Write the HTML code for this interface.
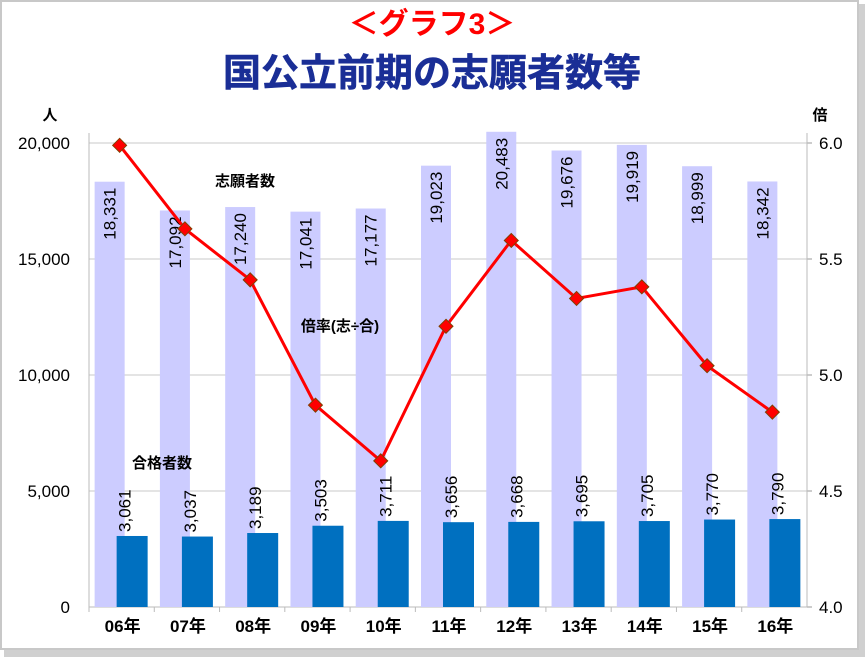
<!DOCTYPE html>
<html><head><meta charset="utf-8"><style>
body{margin:0;background:#fff;width:865px;height:657px;overflow:hidden;font-family:"Liberation Sans","Noto Sans CJK JP",sans-serif}
</style></head><body>
<svg width="865" height="657" viewBox="0 0 865 657" xmlns="http://www.w3.org/2000/svg" font-family="Liberation Sans, Noto Sans CJK JP, sans-serif">
<rect x="1" y="1" width="857" height="648" fill="#fff" stroke="#c8c8c8" stroke-width="2"/>
<rect x="859" y="4" width="6" height="653" fill="#d0d0d0"/>
<rect x="4" y="650" width="861" height="7" fill="#d0d0d0"/>
<text x="432" y="34" text-anchor="middle" font-size="30" font-weight="bold" fill="#ff0000">＜グラフ3＞</text>
<text x="432" y="86" text-anchor="middle" font-size="38" font-weight="bold" fill="#1a2e96" stroke="#1a2e96" stroke-width="0.6">国公立前期の志願者数等</text>
<g id="plot"></g>
</svg>
<script>
const categories=["06年","07年","08年","09年","10年","11年","12年","13年","14年","15年","16年"];
const applicants=[18331,17092,17240,17041,17177,19023,20483,19676,19919,18999,18342];
const admitted=[3061,3037,3189,3503,3711,3656,3668,3695,3705,3770,3790];
const ratio=[5.99,5.63,5.41,4.87,4.63,5.21,5.58,5.33,5.38,5.04,4.84];
const leftTicks=[0,5000,10000,15000,20000];
const rightTicks=[4.0,4.5,5.0,5.5,6.0];
const NS="http://www.w3.org/2000/svg";
const g=document.getElementById('plot');
const X0=89,X1=807,Y0=607,Y1=143;
const bw=(X1-X0)/categories.length;
const yL=v=>Y0-(v/20000)*(Y0-Y1);
const yR=v=>Y0-((v-4)/2)*(Y0-Y1);
const cx=i=>X0+bw*(i+0.5);
function el(t,a,txt){const e=document.createElementNS(NS,t);for(const k in a)e.setAttribute(k,a[k]);if(txt!=null)e.textContent=txt;g.appendChild(e);return e;}
leftTicks.forEach(t=>{
 const gl=el('line',{x1:X0,x2:X1,y1:yL(t),y2:yL(t),stroke:'#c8c8c8'});
 
 const tx=el('text',{x:X0-19,y:yL(t)+6,'text-anchor':'end','font-size':17,fill:'#000'},t.toLocaleString('en-US'));
 
});
rightTicks.forEach(t=>{
 const tx=el('text',{x:X1+12,y:yR(t)+6,'font-size':17,fill:'#000'},t.toFixed(1));
 
 el('line',{x1:X1,x2:X1+5,y1:yR(t),y2:yR(t),stroke:'#999'});
});
el('line',{x1:X0,x2:X0,y1:Y1-10,y2:Y0,stroke:'#bbb'});
el('line',{x1:X1,x2:X1,y1:Y1-10,y2:Y0,stroke:'#bbb'});
el('line',{x1:X0,x2:X1,y1:Y0,y2:Y0,stroke:'#bbb'});
let u=el('text',{x:50,y:120,'text-anchor':'middle','font-size':15,'font-weight':'bold'},'人');

u=el('text',{x:820,y:120,'text-anchor':'middle','font-size':15,'font-weight':'bold'},'倍');

categories.forEach((c,i)=>{
 const x=cx(i);
 el('line',{x1:X0+bw*i,x2:X0+bw*i,y1:Y0,y2:Y0+5,stroke:'#bbb'});
 const b=el('rect',{x:x-27,y:yL(applicants[i]),width:30,height:Y0-yL(applicants[i]),fill:'#ccccff'});
 
 const d=el('rect',{x:x-5,y:yL(admitted[i]),width:31,height:Y0-yL(admitted[i]),fill:'#0070c0'});
 
 const lx=x-12,ly=yL(applicants[i])+6;
 const t1=el('text',{x:0,y:0,transform:`translate(${lx+6},${ly}) rotate(-90)`,'text-anchor':'end','font-size':17,fill:'#000'},applicants[i].toLocaleString('en-US'));
 
 const dy=yL(admitted[i])-4;
 const t2=el('text',{x:0,y:0,transform:`translate(${x+9},${dy}) rotate(-90)`,'font-size':17,fill:'#000'},admitted[i].toLocaleString('en-US'));
 
 const tl=el('text',{x:x+1,y:Y0+25,'text-anchor':'middle','font-size':17,'font-weight':'bold'},c);
 
});
const pts=ratio.map((v,i)=>(cx(i)-2)+','+yR(v)).join(' ');
const pl=el('polyline',{points:pts,fill:'none',stroke:'#ff0000','stroke-width':3});

ratio.forEach((v,i)=>{
 const x=cx(i)-2,y=yR(v);
 const m=el('polygon',{points:`${x},${y-7} ${x+7},${y} ${x},${y+7} ${x-7},${y}`,fill:'#ff0000',stroke:'#804000','stroke-width':1});
 
});
let a=el('text',{x:245,y:186,'text-anchor':'middle','font-size':15,'font-weight':'bold'},'志願者数');

a=el('text',{x:340,y:331,'text-anchor':'middle','font-size':15,'font-weight':'bold'},'倍率(志÷合)');

a=el('text',{x:162,y:468,'text-anchor':'middle','font-size':15,'font-weight':'bold'},'合格者数');

</script>
</body></html>
